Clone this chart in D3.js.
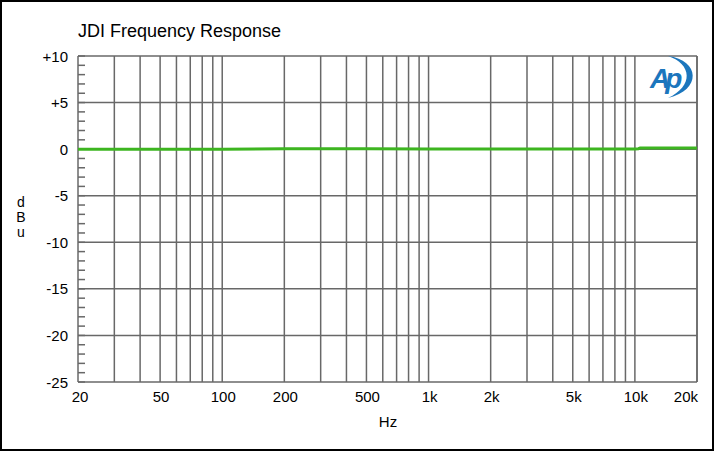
<!DOCTYPE html>
<html><head><meta charset="utf-8">
<script src="https://cdn.jsdelivr.net/npm/d3@7"></script>
<style>body{margin:0;background:#fff}svg{display:block;font-family:Arial,"Liberation Sans",sans-serif}</style>
</head><body><svg id="c" width="714" height="451"></svg>
<script>
const freqs = [20, 50, 100, 200, 500, 1000, 2000, 5000, 10000, 10400, 10600, 20000];
const levels = [0, 0, 0, 0.03, 0.03, 0.02, 0.02, 0.02, 0.02, 0.05, 0.12, 0.12];
const xTickVals = [20, 50, 100, 200, 500, 1000, 2000, 5000, 10000, 20000];
const xTickLabels = ["20", "50", "100", "200", "500", "1k", "2k", "5k", "10k", "20k"];
const yTickVals = [10, 5, 0, -5, -10, -15, -20, -25];
const yTickLabels = ["+10", "+5", "0", "-5", "-10", "-15", "-20", "-25"];

const svg = d3.select("#c");
const L = 78, R = 697, T = 56, B = 382;
const x = d3.scaleLog().domain([20, 20000]).range([L, R]);
const y = d3.scaleLinear().domain([-25, 10]).range([B, T]);
const grid = "#686868";

svg.append("rect").attr("x", 1).attr("y", 1).attr("width", 712).attr("height", 449)
  .attr("fill", "#fff").attr("stroke", "#000").attr("stroke-width", 2);

// vertical grid lines
const vlines = [];
[10, 100, 1000, 10000].forEach(d => { for (let m = 1; m <= 9; m++) { const f = d * m; if (f >= 20 && f <= 20000) vlines.push(f); } });
vlines.push(20000);
svg.append("g").selectAll("line").data(vlines).join("line")
  .attr("x1", d => x(d)).attr("x2", d => x(d)).attr("y1", T).attr("y2", B)
  .attr("stroke", grid).attr("stroke-width", 1.5);
// horizontal grid lines
svg.append("g").selectAll("line").data(yTickVals).join("line")
  .attr("x1", L).attr("x2", R).attr("y1", d => y(d)).attr("y2", d => y(d))
  .attr("stroke", grid).attr("stroke-width", 1.5);
// minor y ticks
svg.append("g").selectAll("line").data(d3.range(-25, 11, 1)).join("line")
  .attr("x1", L).attr("x2", L + 7).attr("y1", d => y(d)).attr("y2", d => y(d))
  .attr("stroke", grid).attr("stroke-width", 1.5);

// y labels
svg.append("g").selectAll("text").data(yTickVals).join("text")
  .attr("x", L - 10).attr("y", d => y(d) + 5.5).attr("text-anchor", "end")
  .attr("font-size", 15).attr("fill", "#000").text((d, i) => yTickLabels[i]);
// x labels
const n = xTickVals.length;
svg.append("g").selectAll("text").data(xTickVals).join("text")
  .attr("x", (d, i) => i === n - 1 ? R + 1 : (i === 0 ? x(d) + 2 : x(d) + 1))
  .attr("y", B + 20)
  .attr("text-anchor", (d, i) => i === n - 1 ? "end" : "middle")
  .attr("font-size", 15).attr("fill", "#000").text((d, i) => xTickLabels[i]);

// title
svg.append("text").attr("x", L).attr("y", 37).attr("font-size", 18).attr("fill", "#000").text("JDI Frequency Response");
// axis titles
svg.append("text").attr("x", 388).attr("y", 427).attr("text-anchor", "middle").attr("font-size", 15).text("Hz");
["d", "B", "u"].forEach((c, i) => svg.append("text").attr("x", 21).attr("y", 207 + i * 15)
  .attr("text-anchor", "middle").attr("font-size", 14).text(c));

// data line
const line = d3.line().x(d => x(d[0])).y(d => y(d[1]));
svg.append("path").datum(freqs.map((f, i) => [f, levels[i]]))
  .attr("d", line).attr("fill", "none").attr("stroke", "#3db520").attr("stroke-width", 3);

// AP logo
const lg = svg.append("g");
lg.append("text").attr("x", 650).attr("y", 88).attr("font-size", 28).attr("font-style", "italic")
  .attr("font-weight", "bold").attr("fill", "#1b76bd").attr("letter-spacing", -5).text("Ap");
lg.append("path").attr("d", "M668,56 C700,60 702,90 668,98 C694,86 692,64 668,56 Z").attr("fill", "#1b76bd");
</script></body></html>
